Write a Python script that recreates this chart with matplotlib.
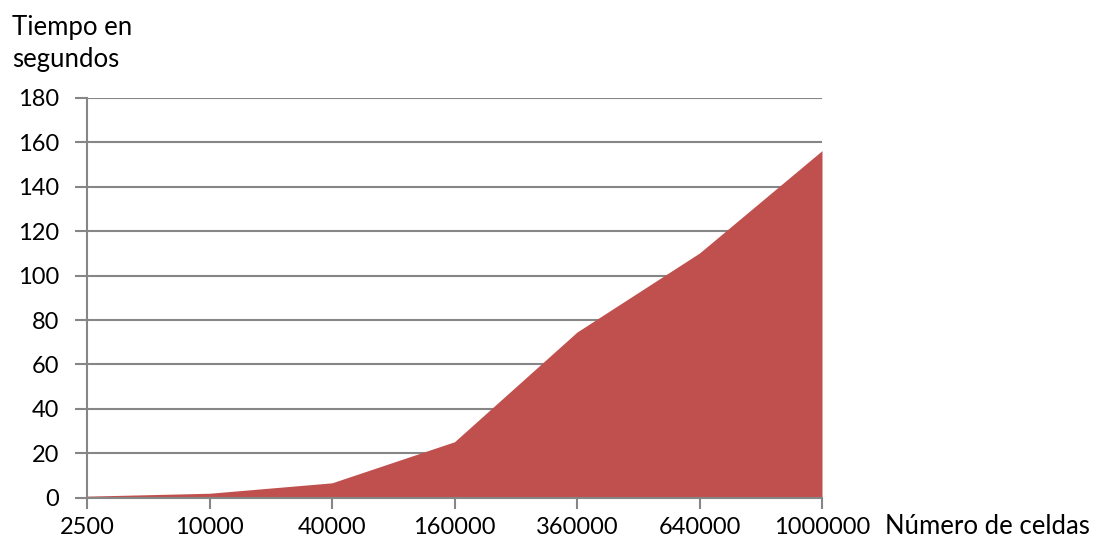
import matplotlib.pyplot as plt

# datos
celdas = ["2500", "10000", "40000", "160000", "360000", "640000", "1000000"]
tiempo = [0.7, 2.0, 6.7, 25.2, 74.6, 110.2, 156.3]
yticks = [0, 20, 40, 60, 80, 100, 120, 140, 160, 180]

plt.rcParams['font.family'] = ['Lato', 'DejaVu Sans']
gris = "#868686"

W, H = 1102, 540
fig = plt.figure(figsize=(W / 100, H / 100), dpi=100)
ax = fig.add_axes([87 / W, (H - 497.7) / H, (822 - 87) / W, (497.7 - 98) / H])

x = list(range(len(celdas)))
ax.fill_between(x, tiempo, 0, color="#C0504D", linewidth=0, zorder=2)

ax.set_xlim(0, len(celdas) - 1)
ax.set_ylim(0, 180)
ax.set_xticks(x)
ax.set_xticklabels(celdas)
ax.set_yticks(yticks)

ax.grid(axis="y", color=gris, linewidth=1.5, zorder=1)
ax.set_axisbelow(True)
for s in ["top", "right"]:
    ax.spines[s].set_visible(False)
for s in ["left", "bottom"]:
    ax.spines[s].set_color(gris)
    ax.spines[s].set_linewidth(1.5)
    ax.spines[s].set_zorder(3)

ax.tick_params(axis="both", colors=gris, labelcolor="black", labelsize=17, width=1.5)
ax.tick_params(axis="y", length=9, pad=11)
ax.tick_params(axis="x", length=8, pad=6)

fig.text(12 / W, 1 - 35 / H, "Tiempo en", fontsize=18.5, va="baseline", ha="left")
fig.text(12 / W, 1 - 67 / H, "segundos", fontsize=18.5, va="baseline", ha="left")
fig.text(885 / W, 1 - 534 / H, "Número de celdas", fontsize=18.5, va="baseline", ha="left")

fig.savefig("out.png", dpi=100)
